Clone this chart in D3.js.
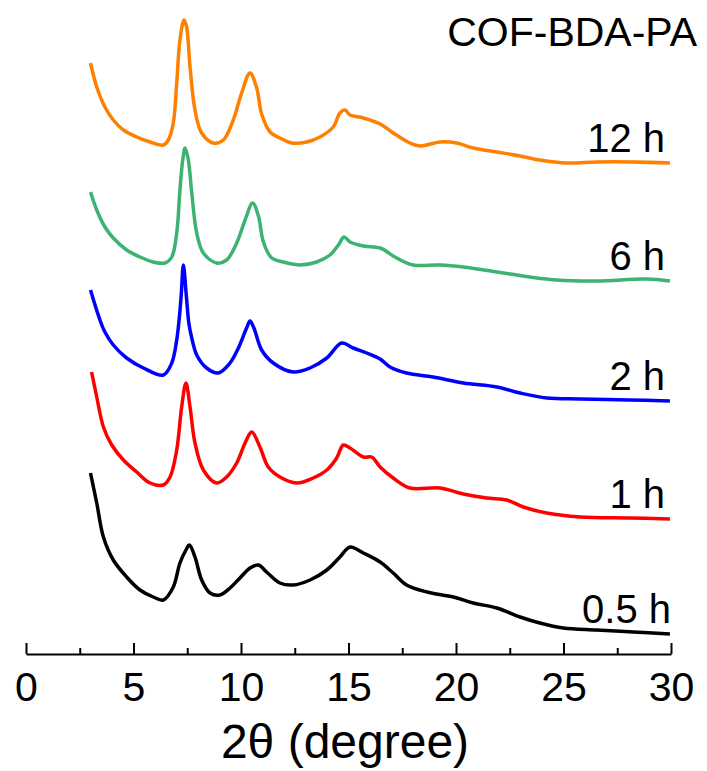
<!DOCTYPE html>
<html>
<head>
<meta charset="utf-8">
<script src="https://cdn.jsdelivr.net/npm/d3@7"></script>
<style>
  body { margin: 0; background: #fff; }
  text { font-family: "Liberation Sans", Arial, sans-serif; }
</style>
</head>
<body>
<svg id="chart" width="707" height="771"></svg>
<script>
// XRD patterns, offset intensity (a.u.)
const names = ['12 h', '6 h', '2 h', '1 h', '0.5 h'];
const colors = ['#ff7f00', '#3cb371', '#0000ff', '#ff0000', '#000000'];

const x12h = [3.0,3.29,3.67,4.06,4.53,5.15,5.77,6.39,6.62,6.85,7.01,7.16,7.35,7.47,7.63,7.86,8.17,8.71,9.18,9.64,10.03,10.42,10.73,10.96,11.35,11.81,12.36,13.06,13.67,14.29,14.6,14.84,15.07,15.69,16.47,17.08,17.86,18.33,19.26,20.03,20.8,21.9,22.98,23.9,25.15,26.54,28.25,29.95];
const y12h = [59.1,56.7,54.7,53.4,52.4,51.7,51.2,50.9,51.4,53.1,57.1,61.4,63.4,62.7,58.7,54.4,52.1,51.1,51.4,53.4,56.1,58.1,56.6,54.0,52.2,51.6,51.1,51.2,51.7,52.7,54.1,54.4,53.9,53.6,53.0,52.1,51.1,50.8,51.2,51.1,50.6,50.2,49.8,49.4,49.1,49.2,49.2,49.1];

const x6h = [3.0,3.29,3.67,4.06,4.68,5.3,5.92,6.47,6.78,7.01,7.16,7.29,7.4,7.55,7.71,7.94,8.25,8.87,9.33,9.8,10.19,10.54,10.81,11.04,11.43,11.97,12.74,13.52,14.14,14.53,14.79,15.07,15.69,16.47,17.24,18.01,19.26,20.34,21.9,23.44,24.68,26.54,28.87,29.95];
const y6h = [46.2,44.4,42.7,41.6,40.4,39.7,39.2,39.1,39.7,42.1,46.4,49.4,50.6,49.4,46.1,42.1,40.1,39.1,39.4,41.1,43.4,45.1,43.8,41.2,39.6,39.2,38.9,39.2,39.9,40.9,41.7,41.2,40.8,40.6,39.6,38.9,38.9,38.7,38.2,37.7,37.4,37.3,37.5,37.3];

const x2h = [3.0,3.44,3.67,4.06,4.68,5.46,6.39,6.78,7.01,7.12,7.22,7.32,7.45,7.58,7.71,7.94,8.4,8.94,9.49,9.88,10.26,10.42,10.6,10.96,11.5,12.43,13.21,13.99,14.68,15.22,15.85,16.47,16.93,17.7,18.94,20.34,21.9,22.98,24.22,25.77,28.09,29.95];
const y2h = [36.4,33.4,32.2,30.9,29.6,28.6,27.9,29.1,31.4,33.4,35.9,38.9,36.0,33.0,31.6,29.9,28.6,28.1,29.1,30.6,32.6,33.3,32.6,30.4,29.1,28.2,28.6,29.6,31.1,30.6,30.1,29.5,28.7,28.1,27.7,27.1,26.7,26.1,25.6,25.5,25.4,25.3];

const x1h = [3.05,3.29,3.6,3.99,4.53,5.15,5.77,6.39,6.7,7.01,7.24,7.44,7.63,7.86,8.25,8.87,9.33,9.8,10.19,10.5,10.88,11.27,11.81,12.59,13.36,13.99,14.45,14.76,15.07,15.69,16.08,16.47,17.08,17.86,19.26,20.34,21.43,22.36,23.13,24.22,25.77,28.09,29.95];
const y1h = [28.2,25.7,22.7,20.9,19.4,18.2,17.1,16.9,17.7,20.4,24.7,27.1,24.7,21.1,18.4,17.1,17.7,19.1,21.1,22.2,20.7,18.7,17.7,17.1,17.6,18.4,19.6,20.9,20.6,19.7,19.7,18.7,17.6,16.6,16.6,16.0,15.6,15.4,14.7,14.1,13.7,13.6,13.5];

const x05h = [3.0,3.29,3.6,4.06,4.68,5.3,5.92,6.39,6.85,7.16,7.44,7.6,7.86,8.17,8.56,9.02,9.49,9.95,10.42,10.81,11.19,11.81,12.43,13.21,13.99,14.6,15.07,15.69,16.47,17.08,17.7,18.64,19.88,20.8,21.9,22.98,23.9,24.99,26.54,28.25,29.95];
const y05h = [18.1,15.1,11.7,9.4,7.7,6.4,5.7,5.4,6.7,9.1,10.4,10.9,9.7,7.4,6.1,5.9,6.6,7.6,8.6,8.9,8.2,7.1,6.9,7.4,8.4,9.7,10.7,10.1,9.2,8.1,6.9,6.2,5.7,5.1,4.6,3.7,3.1,2.6,2.4,2.2,2.0];

const xTicks = [0, 5, 10, 15, 20, 25, 30];
const xMinorTicks = [2.5, 7.5, 12.5, 17.5, 22.5, 27.5];

const series = [
  {name: names[0], color: colors[0], xs: x12h, ys: y12h},
  {name: names[1], color: colors[1], xs: x6h, ys: y6h},
  {name: names[2], color: colors[2], xs: x2h, ys: y2h},
  {name: names[3], color: colors[3], xs: x1h, ys: y1h},
  {name: names[4], color: colors[4], xs: x05h, ys: y05h}
];

const svg = d3.select('#chart');
const x = d3.scaleLinear().domain([0, 30]).range([26, 671]);
const y = d3.scaleLinear().domain([0, 65.4]).range([654, 0]);

const line = d3.line()
  .x(d => x(d[0]))
  .y(d => y(d[1]))
  .curve(d3.curveCatmullRom.alpha(0.5));

svg.append('g').selectAll('path')
  .data(series)
  .join('path')
  .attr('fill', 'none')
  .attr('stroke', d => d.color)
  .attr('stroke-width', 3.5)
  .attr('stroke-linejoin', 'round')
  .attr('d', d => line(d3.zip(d.xs, d.ys)));

// series labels, sitting just above each curve's tail
svg.append('g').selectAll('text')
  .data(series)
  .join('text')
  .attr('x', (d, i) => i === 4 ? 671 : 665)
  .attr('y', d => y(d.ys[d.ys.length - 1]) - 11)
  .attr('text-anchor', 'end')
  .attr('font-size', 40)
  .text(d => d.name);

// x axis, ticks pointing up
const axis = svg.append('g')
  .attr('transform', 'translate(0,654)')
  .call(d3.axisBottom(x).tickValues(xTicks).tickSizeInner(-11).tickSizeOuter(0).tickPadding(18));
axis.select('.domain').attr('stroke-width', 2);
axis.selectAll('.tick line').attr('stroke-width', 2);
axis.selectAll('.tick text')
  .attr('font-size', 41)
  .attr('font-family', '"Liberation Sans", Arial, sans-serif');

const minor = svg.append('g')
  .attr('transform', 'translate(0,654)')
  .call(d3.axisBottom(x).tickValues(xMinorTicks).tickSizeInner(-6).tickSizeOuter(0).tickFormat(''));
minor.select('.domain').remove();
minor.selectAll('.tick line').attr('stroke-width', 2);

svg.append('text')
  .attr('x', 345)
  .attr('y', 758)
  .attr('text-anchor', 'middle')
  .attr('font-size', 48)
  .text('2θ (degree)');

svg.append('text')
  .attr('x', 697)
  .attr('y', 46)
  .attr('text-anchor', 'end')
  .attr('font-size', 41)
  .text('COF-BDA-PA');
</script>
</body>
</html>
